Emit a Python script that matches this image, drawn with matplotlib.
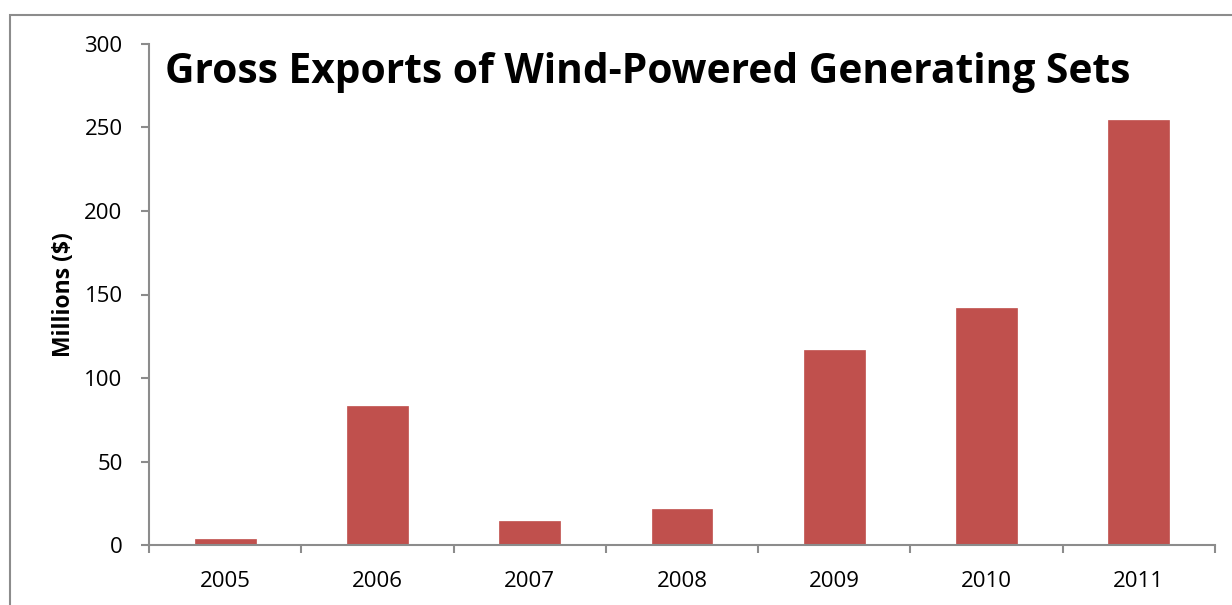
import matplotlib
matplotlib.use("Agg")
import matplotlib.pyplot as plt
from matplotlib.patches import Rectangle

years = ["2005", "2006", "2007", "2008", "2009", "2010", "2011"]
values = [3.6, 83, 14.4, 21.6, 117, 142, 254.5]
yticks = [0, 50, 100, 150, 200, 250, 300]
title = "Gross Exports of Wind-Powered Generating Sets"
ylabel = "Millions ($)"

plt.rcParams['font.family'] = ['Open Sans', 'DejaVu Sans']

W, H = 1232, 605
fig = plt.figure(figsize=(W/100, H/100), dpi=100)
fig.patches.append(Rectangle((10/W, -0.1), 1.2, (H-15)/H + 0.1, transform=fig.transFigure,
                             fill=False, edgecolor='#8c8c8c', linewidth=1.5))

ax = fig.add_axes([149/W, (H-545)/H, (1215-149)/W, (545-44)/H])
x = list(range(len(years)))
ax.bar(x, values, width=0.4, color='#C0504D', edgecolor='#C0504D', linewidth=0.5)
ax.set_xlim(-0.5, len(years)-0.5)
ax.set_ylim(0, 300)
ax.set_yticks(yticks)
ax.set_yticklabels([str(v) for v in yticks], fontsize=16)
ax.set_xticks(x)
ax.set_xticklabels(years, fontsize=16)
ax.set_xticks([i - 0.5 for i in range(len(years)+1)], minor=True)
ax.tick_params(axis='x', which='major', length=0, pad=19)
ax.tick_params(axis='x', which='minor', length=6, direction='out', color='#8c8c8c', width=1.5)
ax.tick_params(axis='y', length=6, direction='out', color='#8c8c8c', width=1.5, pad=13)
for s in ['top', 'right']:
    ax.spines[s].set_visible(False)
for s in ['left', 'bottom']:
    ax.spines[s].set_color('#8c8c8c')
    ax.spines[s].set_linewidth(1.5)
ax.set_ylabel(ylabel, fontsize=16.5, fontweight='bold', labelpad=6)
ax.text(0.015, 0.985, title, transform=ax.transAxes, fontsize=29.3, fontweight='bold',
        ha='left', va='top')
fig.savefig("out.png", dpi=100)
